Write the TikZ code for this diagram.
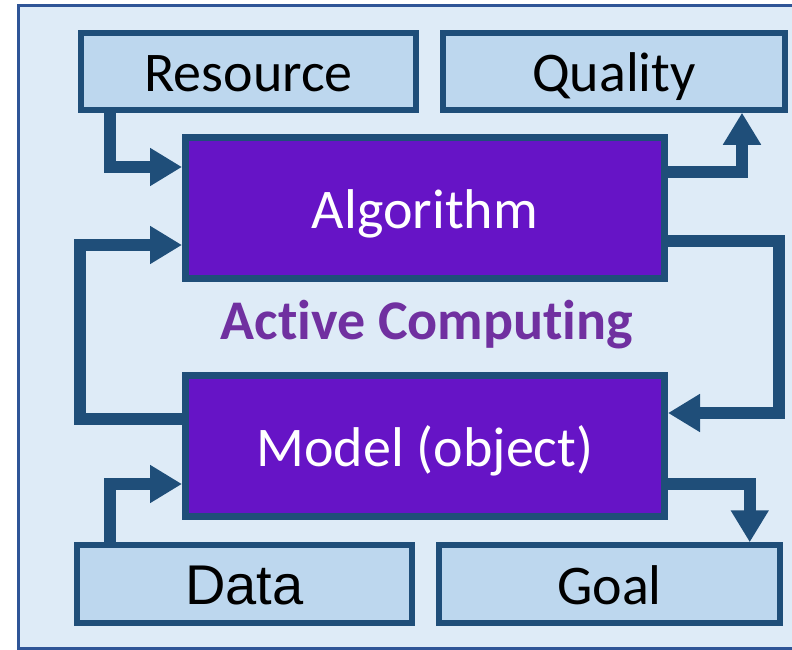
\documentclass[tikz,border=0pt]{standalone}
\usepackage{fontspec}
\setmainfont[Ligatures=NoCommon]{Carlito}
\newfontfamily\arialfont{Liberation Sans}
\usepackage{tikz}
\usetikzlibrary{positioning,calc,arrows.meta}

\definecolor{framecol}{RGB}{47,85,151}
\definecolor{bgcol}{RGB}{222,235,247}
\definecolor{boxcol}{RGB}{189,215,238}
\definecolor{edgecol}{RGB}{31,78,121}
\definecolor{corecol}{RGB}{102,20,198}
\definecolor{titlecol}{RGB}{112,48,160}

\begin{document}
\begin{tikzpicture}[x=1pt,y=-1pt,
		outbox/.style={draw=edgecol,fill=boxcol,line width=5.5pt,minimum height=77pt,
			text height=40pt,text depth=0pt,inner sep=0pt,font=\fontsize{56}{60}\selectfont},
		corebox/.style={draw=edgecol,fill=corecol,line width=7pt,minimum width=479pt,minimum height=141pt,
			text height=40pt,text depth=0pt,inner sep=0pt,text=white,font=\fontsize{56}{60}\selectfont},
		flow/.style={draw=edgecol,line width=12pt,-{Triangle[length=32pt,width=36pt]}}]
		
		% Frame
		\useasboundingbox (0,0) rectangle (792,650);
		\draw[framecol,fill=bgcol,line width=3pt] (18,5.5) rectangle (800,648.5);
		
		% Boxes
		\node[outbox,minimum width=335pt] (res) at (248.5,71.5) {Resource};
		\node[outbox,minimum width=342pt] (qual) at (614,71.5) {Quality};
		\node[corebox] (alg) at (425,208) {Algorithm};
		\node[corebox] (mod) at (425,446) {Model (object)};
		\node[outbox,minimum width=335pt,minimum height=78pt,font=\arialfont\fontsize{56}{60}\selectfont] (data) at (244.5,584) {Data};
		\node[outbox,minimum width=341pt,minimum height=78pt] (goal) at (609.5,584) {Goal};
		
		% Title
		\node[anchor=base,text=titlecol,font=\bfseries\fontsize{56}{60}\selectfont] (title) at (427,339) {Active Computing};
		
		% Arrows
		\draw[flow] ([xshift=31.75pt]res.south west) |- ([yshift=41pt]alg.west);
		\draw[flow] ([yshift=27pt]mod.west) -- ++(-102,0) |- ([yshift=-37pt]alg.west);
		\draw[flow] ([xshift=35.75pt]data.north west) |- ([yshift=-38pt]mod.west);
		\draw[flow] ([yshift=36.5pt]alg.east) -| ([xshift=-45.75pt]qual.south east);
		\draw[flow] ([yshift=-33pt]alg.east) -- ++(110.5,0) |- ([yshift=33pt]mod.east);
		\draw[flow] ([yshift=-38pt]mod.east) -| ([xshift=-33pt]goal.north east);
	\end{tikzpicture}
\end{document}
